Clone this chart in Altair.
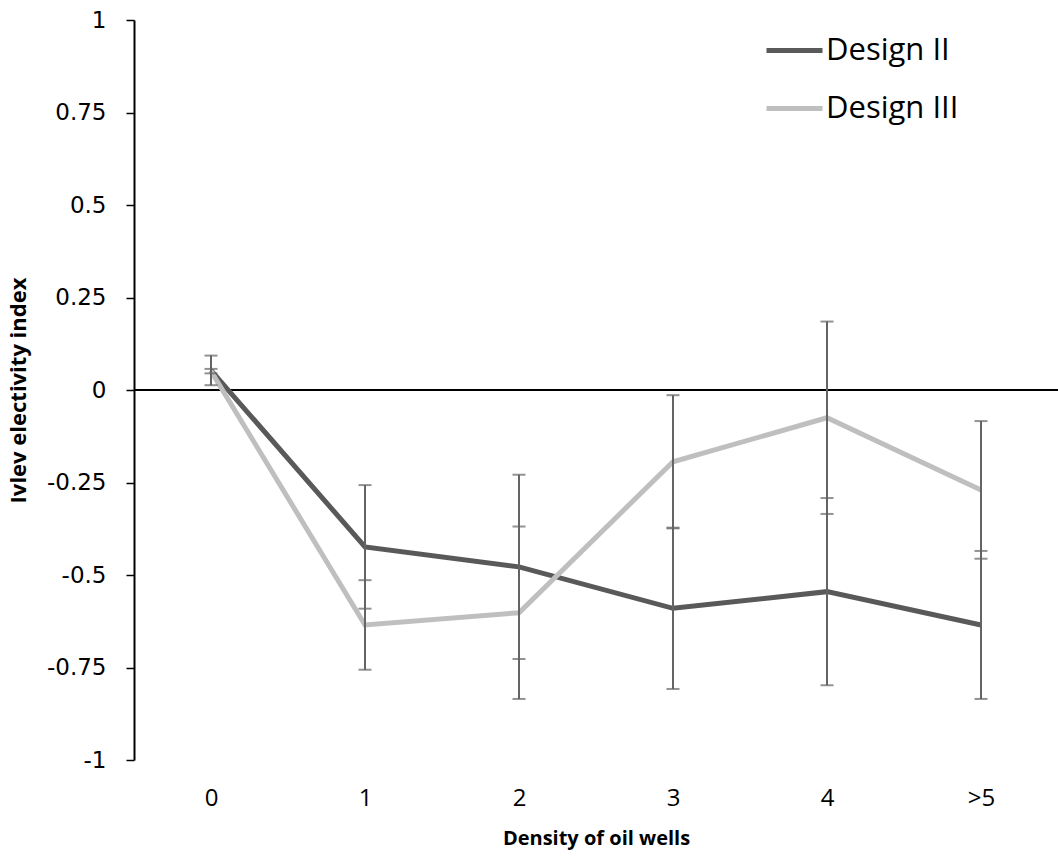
import altair as alt
import pandas as pd

categories = ["0", "1", "2", "3", "4", ">5"]
design2 = [0.053, -0.424, -0.478, -0.590, -0.545, -0.635]
design2_err = [0.040, 0.167, 0.249, 0.218, 0.253, 0.200]
design3 = [0.051, -0.635, -0.602, -0.194, -0.075, -0.270]
design3_err = [0.006, 0.121, 0.233, 0.180, 0.260, 0.186]
series_names = ["Design II", "Design III"]
series_colors = ["#595959", "#bfbfbf"]
y_ticks = [-1, -0.75, -0.5, -0.25, 0, 0.25, 0.5, 0.75, 1]

rows = []
for name, vals, errs in [(series_names[0], design2, design2_err), (series_names[1], design3, design3_err)]:
    for c, v, e in zip(categories, vals, errs):
        rows.append({"cat": c, "series": name, "value": v, "lo": v - e, "hi": v + e})
df = pd.DataFrame(rows)

x_enc = alt.X("cat:N", sort=categories,
              scale=alt.Scale(type="point", padding=0.5),
              axis=alt.Axis(title="Density of oil wells", labelAngle=0, domain=False, ticks=False,
                            labelFont="Open Sans", labelFontSize=24, labelColor="black",
                            labelPadding=26,
                            titleFont="Open Sans", titleFontSize=20, titleFontWeight="bold",
                            titleColor="black", titleY=78, titleBaseline="middle"))

y_scale = alt.Scale(domain=[-1, 1], nice=False, zero=False)
y_axis = alt.Axis(title="Ivlev electivity index", values=y_ticks, labelExpr="'' + datum.value",
                  grid=False, domainColor="black", domainWidth=2, tickColor="black", tickWidth=1.5,
                  tickSize=8, labelFont="DejaVu Sans", labelFontSize=23, labelColor="black",
                  labelPadding=20,
                  titleFont="Open Sans", titleFontSize=22, titleFontWeight="bold", titleColor="black",
                  titleX=-116, titleY=370, titleAngle=270, titleAlign="center", titleBaseline="middle")

base = alt.Chart(df)

zero_line = base.mark_rule(color="black", strokeWidth=2).encode(y=alt.datum(0, scale=y_scale))

lines = base.mark_line(strokeWidth=5).encode(
    x=x_enc,
    y=alt.Y("value:Q", scale=y_scale, axis=y_axis),
    color=alt.Color("series:N", scale=alt.Scale(domain=series_names, range=series_colors),
                    legend=alt.Legend(title=None, orient="none", legendX=630, legendY=0,
                                      symbolType="stroke", symbolSize=3136, symbolStrokeWidth=5,
                                      labelFont="Open Sans", labelFontSize=31, labelColor="black",
                                      labelOffset=1, rowPadding=12, padding=0)),
)

err_rules = base.mark_rule(color="#646464", strokeWidth=2).encode(
    x=alt.X("cat:N", sort=categories), y=alt.Y("lo:Q", scale=y_scale), y2="hi:Q")
caps_lo = base.mark_tick(color="#646464", thickness=2, size=13, orient="horizontal").encode(
    x=alt.X("cat:N", sort=categories), y=alt.Y("lo:Q", scale=y_scale))
caps_hi = base.mark_tick(color="#646464", thickness=2, size=13, orient="horizontal").encode(
    x=alt.X("cat:N", sort=categories), y=alt.Y("hi:Q", scale=y_scale))

chart = alt.layer(zero_line, lines, err_rules, caps_lo, caps_hi).properties(
    width=924, height=740,
    autosize=alt.AutoSizeParams(type="none"),
    padding={"left": 134, "top": 20, "right": 0, "bottom": 97},
    background="white",
).configure_view(stroke=None)

chart.save("out.html", embed_options={"renderer": "svg", "actions": False})
